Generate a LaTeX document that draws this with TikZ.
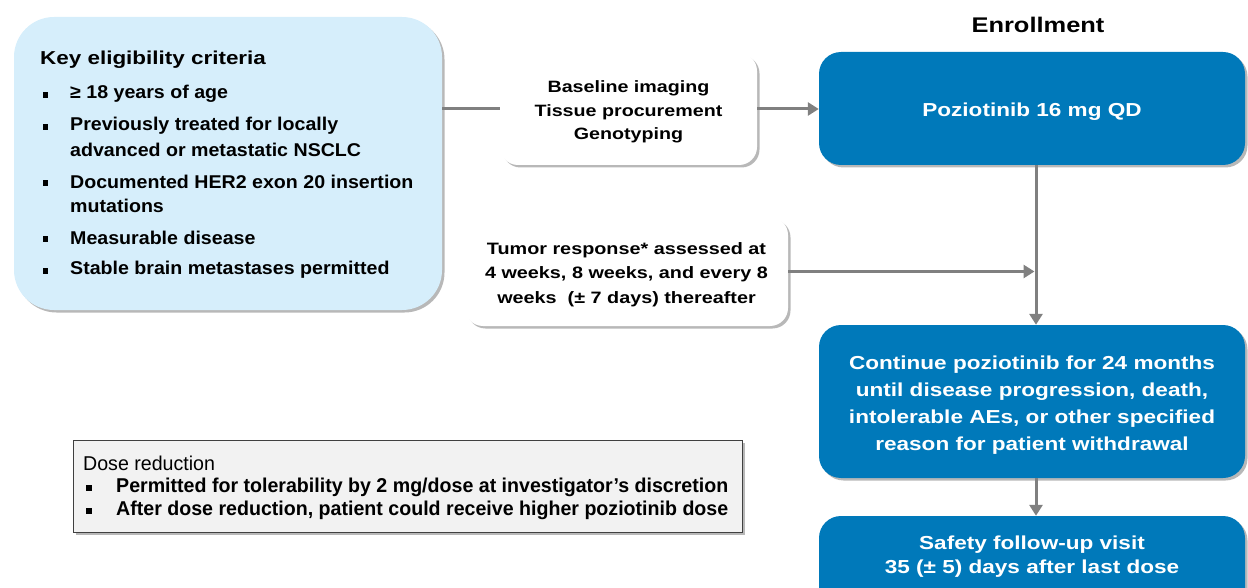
\documentclass[tikz,border=0pt]{standalone}
\usepackage{fontspec}
\setmainfont{Liberation Sans}[FakeStretch=1.2]
\newfontfamily\narrowfont[FakeStretch=0.98]{Liberation Sans}
\newfontfamily\critfont[FakeStretch=1.06]{Liberation Sans}
\usetikzlibrary{shadows,arrows.meta}
\definecolor{critblue}{RGB}{214,238,251}
\definecolor{darkblue}{RGB}{0,121,186}
\definecolor{arrgray}{RGB}{128,128,128}
\definecolor{dosegray}{RGB}{242,242,242}
\tikzset{
  shad/.style={drop shadow={shadow xshift=2.5pt,shadow yshift=-2.5pt,fill=black,opacity=0.28}},
  critbox/.style={fill=critblue,draw=none,rounded corners=40pt,shad},
  whitebox/.style={fill=white,draw=none,rounded corners=18pt,shad},
  bluebox/.style={fill=darkblue,draw=none,rounded corners=22pt,shad},
  bluetext/.style={text=white,font=\bfseries\fontsize{18.8}{27}\selectfont,align=center},
  dosebox/.style={fill=dosegray,draw=black!75,line width=1pt,shad},
  conn/.style={draw=arrgray,line width=3pt},
  arr/.style={conn,-{Triangle[length=11pt,width=13pt]}},
  crittext/.style={anchor=west,inner sep=0pt,font=\critfont\bfseries\fontsize{18.5}{24}\selectfont},
  bul/.style={fill=black,minimum size=5.5pt,inner sep=0pt},
  wtext/.style={align=center,font=\bfseries\fontsize{16.4}{23.5}\selectfont},
  dtext/.style={anchor=west,inner sep=0pt,font=\narrowfont\bfseries\fontsize{20}{23}\selectfont},
}
\begin{document}
\begin{tikzpicture}[x=1pt,y=-1pt]
\useasboundingbox (0,0) rectangle (1248,588);
% boxes
\node[critbox,minimum width=428pt,minimum height=293pt] (crit) at (228,163.5) {};
\node[whitebox,minimum width=257pt,minimum height=112pt] (base) at (628.5,109) {};
\node[wtext] (basetxt) at (628.5,112) {Baseline imaging\\Tissue procurement\\Genotyping};
\node[whitebox,minimum width=323pt,minimum height=109pt] (tumor) at (626.5,271.5) {};
\node[wtext,font=\bfseries\fontsize{16.5}{24.5}\selectfont] (tumortxt) at (626.5,274.5) {Tumor response* assessed at\\4 weeks, 8 weeks, and every 8\\weeks\ \ (± 7 days) thereafter};
\node[bluebox,minimum width=426pt,minimum height=113pt] (pozio) at (1032,108.5) {};
\node[bluetext] (poziotxt) at (1032,112) {Poziotinib 16 mg QD};
\node[bluebox,minimum width=426pt,minimum height=153pt] (cont) at (1032,401.5) {};
\node[bluetext] (conttxt) at (1032,405) {Continue poziotinib for 24 months\\until disease progression, death,\\intolerable AEs, or other specified\\reason for patient withdrawal};
\node[bluebox,minimum width=426pt,minimum height=124pt] (safe) at (1032,578) {};
\node[bluetext,font=\bfseries\fontsize{18.8}{24}\selectfont] (safetxt) at (1032,557) {Safety follow-up visit\\35 (± 5) days after last dose};
\node[font=\bfseries\fontsize{21.2}{26}\selectfont] (enr) at (1038,25) {Enrollment};
\node[dosebox,minimum width=669pt,minimum height=92pt] (dose) at (407.5,486) {};
% criteria text
\node[crittext,font=\bfseries\fontsize{18.7}{24}\selectfont] (h1) at (40,60) {Key eligibility criteria};
\foreach \y/\t [count=\i] in {94/≥ 18 years of age,126/Previously treated for locally,150/advanced or metastatic NSCLC,182/Documented HER2 exon 20 insertion,206/mutations,238/Measurable disease,270/Stable brain metastases permitted}{
  \node[crittext] (c\i) at (70,\y) {\t};
}
\foreach \y [count=\i] in {95,127,183,239,271}{
  \node[bul] (b\i) at (45.5,\y) {};
}
% dose text
\node[dtext,font=\narrowfont\fontsize{20}{23}\selectfont] (dh) at (83,463) {Dose reduction};
\node[dtext] (d1) at (116,487) {Permitted for tolerability by 2 mg/dose at investigator’s discretion};
\node[dtext] (d2) at (116,510) {After dose reduction, patient could receive higher poziotinib dose};
\node[bul] (db1) at (89,488) {};
\node[bul] (db2) at (89,511) {};
% connectors
\draw[conn] (crit.east |- base.west) -- (base.west);
\draw[arr] (base.east) -- (pozio.west |- base.east);
\draw[arr] ([xshift=4pt]pozio.south) -- ([xshift=4pt]cont.north);
\draw[arr] (tumor.east) -- ([xshift=2.5pt]tumor.east -| pozio.south);
\draw[arr] ([xshift=4pt]cont.south) -- ([xshift=4pt]safe.north);
\end{tikzpicture}
\end{document}
